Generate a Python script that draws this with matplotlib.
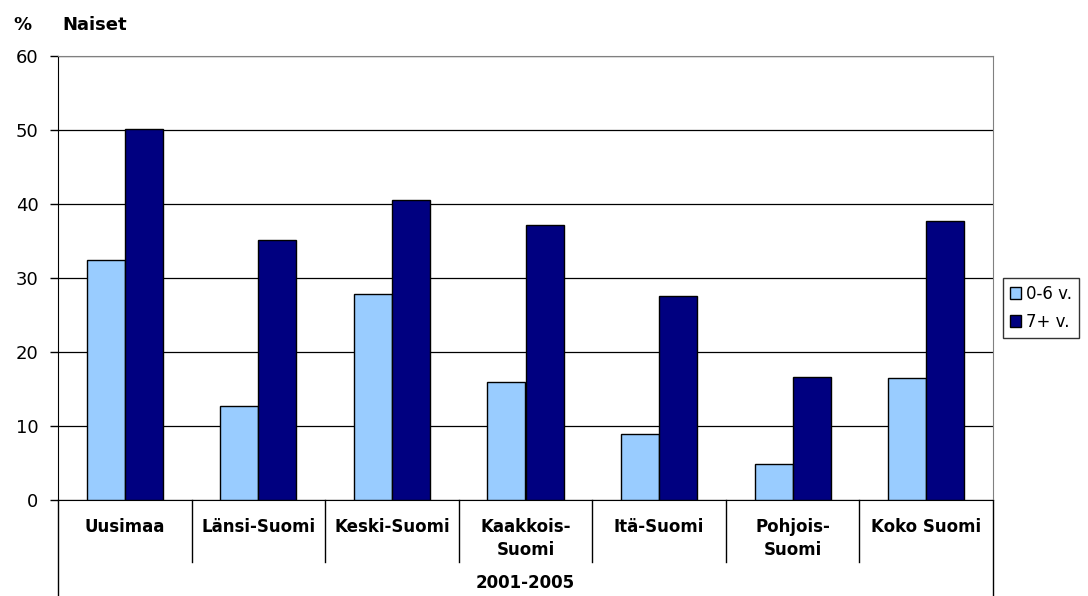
import matplotlib
matplotlib.use("Agg")
import matplotlib.pyplot as plt
import matplotlib.transforms as mtransforms
from matplotlib.patches import Patch
import numpy as np

# data
regions = ["Uusimaa", "Länsi-Suomi", "Keski-Suomi", "Kaakkois-\nSuomi",
           "Itä-Suomi", "Pohjois-\nSuomi", "Koko Suomi"]
age_0_6 = [32.5, 12.7, 27.8, 15.9, 8.9, 4.9, 16.5]
age_7_plus = [50.1, 35.1, 40.6, 37.2, 27.6, 16.6, 37.7]
series_names = ["0-6 v.", "7+ v."]
period = "2001-2005"

LIGHT = "#99CCFF"
DARK = "#000080"

W, H = 1088, 596


def fy(px):
    # pixel row -> figure fraction
    return (H - px) / H


def main():
    fig = plt.figure(figsize=(W / 100, H / 100), dpi=100)
    ax = fig.add_axes([58 / W, fy(500), 935 / W, 444 / H])

    x = np.arange(len(regions))
    bw = 0.285
    ax.bar(x - bw / 2, age_0_6, bw, color=LIGHT, edgecolor="black", linewidth=1, zorder=3)
    ax.bar(x + bw / 2, age_7_plus, bw, color=DARK, edgecolor="black", linewidth=1, zorder=3)

    ax.set_xlim(-0.5, len(regions) - 0.5)
    ax.set_ylim(0, 60)
    ax.set_yticks(range(0, 61, 10))
    ax.tick_params(axis="y", labelsize=13, length=6, width=1, pad=8, color="black")
    ax.set_xticks([])
    ax.yaxis.grid(True, color="black", linewidth=0.9, zorder=0)
    ax.set_axisbelow(True)

    for side in ["top", "right"]:
        ax.spines[side].set_color("#808080")
    for side in ["left", "bottom"]:
        ax.spines[side].set_color("black")

    # category separators and labels below the axis
    trans = mtransforms.blended_transform_factory(ax.transData, fig.transFigure)
    for k in range(1, len(regions)):
        ax.plot([k - 0.5, k - 0.5], [fy(500), fy(562)], color="black", lw=1,
                transform=trans, clip_on=False)
    for xe in [-0.5, len(regions) - 0.5]:
        ax.plot([xe, xe], [fy(500), 0], color="black", lw=1,
                transform=trans, clip_on=False)

    for i, lab in enumerate(regions):
        for j, line in enumerate(lab.split("\n")):
            ax.text(i, fy(527 + 23 * j), line, transform=trans, ha="center",
                    va="center", fontsize=12, fontweight="bold")
    ax.text((len(regions) - 1) / 2, fy(583), period, transform=trans,
            ha="center", va="center", fontsize=12, fontweight="bold")

    # title
    fig.text(13 / W, fy(25), "%", fontsize=13, fontweight="bold", va="center")
    fig.text(62 / W, fy(25), "Naiset", fontsize=13, fontweight="bold", va="center")

    handles = [Patch(facecolor=LIGHT, edgecolor="black"),
               Patch(facecolor=DARK, edgecolor="black")]
    leg = fig.legend(handles, series_names, loc="center",
                     bbox_to_anchor=(1041 / W, fy(308)), fontsize=12,
                     frameon=True, fancybox=False, shadow=False,
                     handlelength=0.7, handleheight=0.7, handletextpad=0.3,
                     borderpad=0.4, labelspacing=0.6, borderaxespad=0)
    leg.get_frame().set_edgecolor("black")
    leg.get_frame().set_linewidth(1)

    fig.savefig("out.png", dpi=100)
    plt.close(fig)


if __name__ == "__main__":
    main()
